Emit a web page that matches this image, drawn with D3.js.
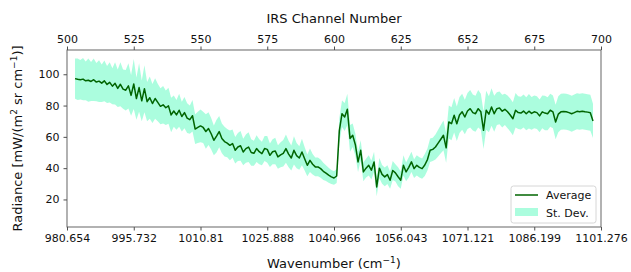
<!DOCTYPE html>
<html><head><meta charset="utf-8">
<script src="https://cdn.jsdelivr.net/npm/d3@7"></script>
<style>body{margin:0;background:#fff}svg{display:block;font-family:"DejaVu Sans",sans-serif}</style>
</head><body><svg id="c" width="631" height="272"></svg>
<script>
const firstChannel = 503;
const meanValues = [
97.2,96.8,96.5,96.9,95.8,96.2,95.4,96.5,95.0,95.6,
94.3,95.8,93.5,94.8,92.4,94.2,91.0,93.6,90.5,89.8,
92.6,86.5,93.8,84.5,91.5,83.0,90.8,82.5,85.0,81.3,
84.5,82.0,79.5,80.5,78.6,79.8,74.0,
76.5,74.0,77.0,73.0,75.5,72.0,71.0,73.5,65.0,66.0,
67.0,66.0,63.4,65.3,62.0,57.8,60.5,63.4,59.0,57.0,
56.0,54.6,55.7,51.4,53.5,54.3,50.3,52.5,53.5,50.0,
49.5,52.5,50.5,49.3,52.5,52.0,48.2,50.5,51.0,47.2,48.5,
49.5,52.5,49.0,46.5,51.4,48.0,46.5,50.3,46.0,41.8,45.0,
42.5,40.8,40.8,39.7,38.0,36.8,35.5,34.4,33.7,35.0,
64.0,74.8,72.7,77.6,59.0,61.0,55.0,44.0,51.4,37.6,
40.0,41.8,38.7,44.0,28.0,40.0,36.0,34.4,35.9,32.3,
38.5,37.0,34.5,32.3,41.8,37.6,40.5,44.0,39.7,41.8,
40.5,39.7,42.0,45.5,51.4,52.0,53.5,56.0,58.5,61.0,
53.0,69.5,68.4,73.8,68.4,74.0,76.0,72.7,76.5,78.0,
75.5,74.8,78.0,76.0,64.2,77.0,74.5,79.1,74.8,78.0,
78.5,76.4,77.6,76.0,74.0,71.6,77.0,75.5,75.2,76.5,
74.8,76.4,75.0,76.0,75.5,73.4,76.0,75.2,74.8,77.0,76.0,
69.5,74.5,76.0,76.2,76.0,75.5,74.8,75.5,76.3,76.0,76.4,76.0,75.8,75.4,70.2
];
const stdValues = [
12.8,13.2,12.6,13.5,12.4,13.8,12.5,13.6,12.2,13.4,
12.0,13.0,11.8,12.8,11.5,13.5,12.0,14.0,12.5,13.0,
14.5,13.0,16.0,13.5,15.5,13.0,15.0,12.5,13.5,12.5,
13.0,12.0,11.5,12.0,11.0,11.5,11.0,
10.0,9.5,10.5,9.5,10.0,9.5,9.0,10.0,9.5,10.0,
10.5,10.0,11.0,10.5,10.0,9.5,10.5,10.0,9.5,9.5,
9.0,9.5,9.0,8.5,9.0,9.5,8.5,9.0,9.5,8.5,
8.0,8.5,8.0,7.5,8.0,8.5,7.5,8.0,8.5,7.5,8.0,
8.5,9.0,8.5,8.0,9.0,8.0,7.5,8.5,7.5,7.0,7.5,
6.5,6.0,6.0,5.8,5.5,5.0,4.8,4.5,4.3,4.5,
8.0,8.5,9.0,10.0,8.5,7.5,7.0,6.5,6.5,6.0,
6.0,6.5,6.0,6.5,6.0,6.5,6.0,6.0,6.0,5.5,
6.0,5.5,6.0,5.5,6.5,6.0,6.5,6.5,6.0,6.5,
6.5,6.5,7.0,7.0,7.5,7.5,8.0,8.5,9.0,9.5,
9.5,10.5,10.5,11.0,11.0,11.5,11.5,11.0,11.5,12.0,
11.5,11.5,12.0,11.5,12.0,12.5,11.5,12.0,11.5,10.5,
10.5,10.5,10.0,10.5,10.5,10.5,11.0,10.5,10.5,10.5,
10.5,11.0,10.5,10.5,10.5,10.5,10.5,11.0,10.5,10.5,10.5,
11.0,11.5,11.5,11.5,11.5,11.5,11.5,11.5,11.5,11.5,11.5,11.5,11.5,11.5,11.0
];
const channelTicks = [500,525,550,575,600,625,650,675,700];
const channelTickLabels = ["500","525","550","575","600","625","652","675","700"];
const wavenumberTickLabels = ["980.654","995.732","1010.81","1025.888","1040.966","1056.043","1071.121","1086.199","1101.276"];
const yTicks = [20,40,60,80,100];

const data = meanValues.map((m,i)=>({ch:firstChannel+i, mean:m, std:stdValues[i]}));

const svg = d3.select("#c");
const L=67, R=601, T=50, B=227;
const x = d3.scaleLinear().domain([500,700]).range([L,R]);
const y = d3.scaleLinear().domain([2.4,115.5]).range([B,T]);

const area = d3.area().x(d=>x(d.ch)).y0(d=>y(d.mean-d.std)).y1(d=>y(d.mean+d.std));
svg.append("path").datum(data).attr("d",area).attr("fill","#00fa9a").attr("fill-opacity",0.33);
const line = d3.line().x(d=>x(d.ch)).y(d=>y(d.mean));
svg.append("path").datum(data).attr("d",line).attr("fill","none").attr("stroke","#006400").attr("stroke-width",1.5).attr("stroke-linejoin","round");

function styleAxis(g){
  g.select(".domain").remove();
  g.selectAll(".tick line").attr("stroke","#222").attr("stroke-width",0.8);
  g.selectAll(".tick text").attr("fill","#111").style("font-size","11px").style("font-family","DejaVu Sans");
}
svg.append("g").attr("transform",`translate(0,${B})`)
  .call(d3.axisBottom(x).tickValues(channelTicks).tickSize(3.5).tickPadding(4).tickFormat((d,i)=>wavenumberTickLabels[i]))
  .call(styleAxis);
svg.append("g").attr("transform",`translate(0,${T})`)
  .call(d3.axisTop(x).tickValues(channelTicks).tickSize(3.5).tickPadding(4).tickFormat((d,i)=>channelTickLabels[i]))
  .call(styleAxis);
svg.append("g").attr("transform",`translate(${L},0)`)
  .call(d3.axisLeft(y).tickValues(yTicks).tickSize(3.5).tickPadding(4))
  .call(styleAxis);

svg.append("rect").attr("x",L).attr("y",T).attr("width",R-L).attr("height",B-T)
  .attr("fill","none").attr("stroke","#555").attr("stroke-width",0.9);

// titles
svg.append("text").attr("x",(L+R)/2).attr("y",23).attr("text-anchor","middle").style("font-size","13px").attr("fill","#111").text("IRS Channel Number");
const xt = svg.append("text").attr("x",(L+R)/2).attr("y",268).attr("text-anchor","middle").style("font-size","13px").attr("fill","#111");
xt.append("tspan").text("Wavenumber (cm");
xt.append("tspan").attr("dy",-5).style("font-size","9px").text("\u22121");
xt.append("tspan").attr("dy",5).text(")");
const yt = svg.append("text").attr("transform",`translate(22,${(T+B)/2}) rotate(-90)`).attr("text-anchor","middle").style("font-size","13px").attr("fill","#111");
yt.append("tspan").text("Radiance [mW/(m");
yt.append("tspan").attr("dy",-5).style("font-size","9px").text("2");
yt.append("tspan").attr("dy",5).text(" sr cm");
yt.append("tspan").attr("dy",-5).style("font-size","9px").text("\u22121");
yt.append("tspan").attr("dy",5).text(")]");

// legend
const lg = svg.append("g");
lg.append("rect").attr("x",511).attr("y",186).attr("width",85).attr("height",37).attr("rx",2.5)
  .attr("fill","#fff").attr("fill-opacity",0.8).attr("stroke","#ccc").attr("stroke-width",0.8);
lg.append("line").attr("x1",515).attr("x2",538).attr("y1",195).attr("y2",195).attr("stroke","#006400").attr("stroke-width",1.5);
lg.append("rect").attr("x",515).attr("y",208).attr("width",23).attr("height",8).attr("fill","#00fa9a").attr("fill-opacity",0.33);
lg.append("text").attr("x",546).attr("y",199).style("font-size","11px").attr("fill","#111").text("Average");
lg.append("text").attr("x",546).attr("y",216.5).style("font-size","11px").attr("fill","#111").text("St. Dev.");
</script></body></html>
